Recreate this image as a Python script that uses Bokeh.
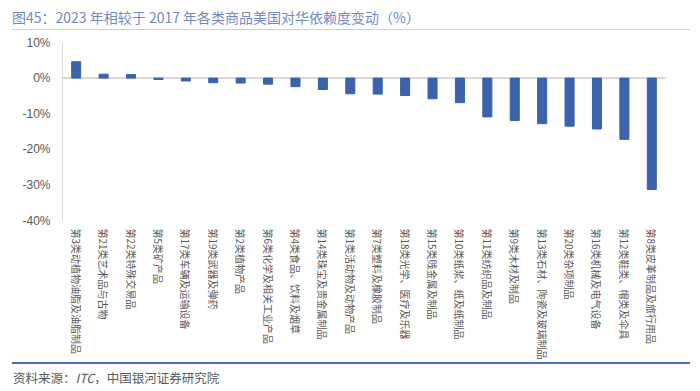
import math
from bokeh.plotting import figure
from bokeh.models import FactorRange, Div, Span, FixedTicker, PrintfTickFormatter, ColumnDataSource
from bokeh.layouts import column
from bokeh.embed import file_html
from bokeh.resources import INLINE

categories = [
    "第3类动植物油脂及油脂制品",
    "第21类艺术品与古物",
    "第22类特殊交易品",
    "第5类矿产品",
    "第17类车辆及运输设备",
    "第19类武器及弹药",
    "第2类植物产品",
    "第6类化学及相关工业产品",
    "第4类食品、饮料及烟草",
    "第14类珠宝及贵金属制品",
    "第1类活动物及动物产品",
    "第7类塑料及橡胶制品",
    "第18类光学、医疗及乐器",
    "第15类贱金属及制品",
    "第10类纸浆、纸及纸制品",
    "第11类纺织品及制品",
    "第9类木材及制品",
    "第13类石材、陶瓷及玻璃制品",
    "第20类杂项制品",
    "第16类机械及电气设备",
    "第12类鞋类、帽类及伞具",
    "第8类皮革制品及旅行用品",
]
values = [4.6, 1.1, 1.0, -0.4, -0.8, -1.3, -1.4, -1.7, -2.4, -3.2, -4.4,
          -4.5, -4.9, -5.8, -6.9, -10.9, -11.9, -12.8, -13.5, -14.3, -17.2, -31.3]
y_ticks = [-40, -30, -20, -10, 0, 10]

title_text = "图45：2023 年相较于 2017 年各类商品美国对华依赖度变动（%）"
source_text = "资料来源：<i>ITC</i>，中国银河证券研究院"

FONT = "'Noto Sans CJK SC'"

title_div = Div(
    text=(f'<div style="font-family:{FONT};font-size:14px;color:#7489bf;'
          f'border-bottom:1px solid #c5d3ea;margin:0 0 0 12px;width:678px;height:30px;'
          f'box-sizing:border-box;padding-top:7px;line-height:20px;white-space:nowrap;">'
          f'{title_text}</div>'),
    width=700, height=31, margin=0,
)

src = ColumnDataSource(data=dict(cat=categories, val=values))

p = figure(
    x_range=FactorRange(*categories), y_range=(-40, 10),
    width=700, height=331, frame_height=178, frame_width=603,
    output_backend="svg", toolbar_location=None,
    min_border_left=62, min_border_right=35, min_border_top=11, min_border_bottom=142,
)
p.vbar(x="cat", top="val", width=0.33, source=src, fill_color="#3a62ad", line_color="#3a62ad")

zero = Span(location=0, dimension="width", line_color="#d9d9d9", line_width=2, level="underlay")
p.add_layout(zero)

p.xgrid.visible = False
p.ygrid.visible = False
p.outline_line_color = None

p.yaxis.ticker = FixedTicker(ticks=y_ticks)
p.yaxis.formatter = PrintfTickFormatter(format="%d%%")
p.yaxis.axis_line_color = "#d9d9d9"
p.yaxis.major_tick_line_color = None
p.yaxis.minor_tick_line_color = None
p.yaxis.major_tick_out = 0
p.yaxis.major_tick_in = 0
p.yaxis.minor_tick_out = 0
p.yaxis.major_label_text_font_size = "12px"
p.yaxis.major_label_text_color = "#595959"
p.yaxis.major_label_text_font = "Liberation Sans"
p.yaxis.major_label_standoff = 12

p.xaxis.axis_line_color = None
p.xaxis.major_tick_line_color = None
p.xaxis.minor_tick_line_color = None
p.xaxis.major_tick_out = 0
p.xaxis.major_tick_in = 0
p.xaxis.minor_tick_out = 0
p.xaxis.major_label_orientation = -math.pi / 2
p.xaxis.major_label_text_font_size = "10px"
p.xaxis.major_label_text_color = "#595959"
p.xaxis.major_label_text_font = "Noto Sans CJK SC"
p.xaxis.major_label_standoff = 8

source_div = Div(
    text=(f'<div style="font-family:{FONT};font-size:12.5px;color:#595959;'
          f'border-top:2px solid #4a72b8;margin:0 0 0 12px;width:678px;padding-top:6px;'
          f'line-height:16px;white-space:nowrap;">'
          f'<span style="padding-left:1px">{source_text}</span></div>'),
    width=700, height=29, margin=0,
)

layout = column(title_div, p, source_div, spacing=0)

open("out.html", "w").write(file_html(layout, INLINE))
